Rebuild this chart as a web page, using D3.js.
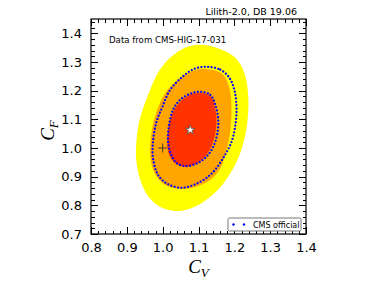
<!DOCTYPE html>
<html>
<head>
  <script src="https://d3js.org/d3.v7.min.js"></script>
  <style>
    body { margin: 0; background: #fff; }
    .axis text { font-family: "DejaVu Sans", sans-serif; font-size: 13px; fill: #000; }
    .axis line { stroke: #000; stroke-width: 1; shape-rendering: crispEdges; }
    .axis path { display: none; }
    .note { font-family: "DejaVu Sans", sans-serif; fill: #000; }
    .mathlabel { font-family: "Liberation Serif", "DejaVu Serif", serif; font-style: italic; fill: #000; }
  </style>
</head>
<body>
<div id="chart"></div>
<script>
  var w = 381;
  var h = 286;
  var plotLeft = 91, plotRight = 306, plotTop = 19, plotBottom = 234;

  // axis ticks
  var xTicks = [0.8, 0.9, 1.0, 1.1, 1.2, 1.3, 1.4];
  var yTicks = [0.7, 0.8, 0.9, 1.0, 1.1, 1.2, 1.3, 1.4];

  // Lilith confidence regions (C_V, C_F)
  var yellowContour = [[1.100,1.360],[1.150,1.350],[1.200,1.318],[1.228,1.262],[1.239,1.175],[1.234,1.070],
    [1.211,0.965],[1.166,0.871],[1.120,0.818],[1.075,0.788],[1.035,0.780],[0.995,0.793],[0.962,0.828],
    [0.940,0.880],[0.927,0.950],[0.926,1.010],[0.936,1.100],[0.964,1.200],[0.986,1.260],[1.013,1.305],
    [1.055,1.345]];
  var orangeContour = [[1.119,1.276],[1.166,1.259],[1.186,1.210],[1.192,1.143],[1.189,1.063],[1.180,1.000],
    [1.161,0.930],[1.133,0.889],[1.091,0.864],[1.049,0.857],[1.007,0.871],[0.982,0.903],[0.968,0.948],
    [0.965,1.000],[0.971,1.070],[0.985,1.133],[1.007,1.192],[1.049,1.245],[1.083,1.269]];
  var redContour = [[1.110,1.192],[1.136,1.178],[1.147,1.133],[1.150,1.081],[1.141,1.021],[1.122,0.976],
    [1.097,0.948],[1.066,0.934],[1.038,0.944],[1.018,0.976],[1.013,1.021],[1.018,1.081],[1.029,1.126],
    [1.055,1.168],[1.083,1.189]];

  // CMS official contours
  var cmsOuter = [[1.124,1.283],[1.161,1.273],[1.186,1.245],[1.200,1.203],[1.206,1.143],[1.203,1.081],
    [1.192,1.021],[1.169,0.965],[1.136,0.910],[1.094,0.875],[1.052,0.861],[1.013,0.875],[0.987,0.906],
    [0.973,0.965],[0.973,1.021],[0.982,1.088],[0.999,1.143],[1.021,1.203],[1.055,1.248],[1.088,1.276]];
  var cmsInner = [[1.105,1.196],[1.133,1.185],[1.147,1.150],[1.155,1.098],[1.152,1.046],[1.141,1.004],
    [1.124,0.972],[1.099,0.948],[1.063,0.937],[1.038,0.948],[1.024,0.976],[1.015,1.021],[1.018,1.081],
    [1.029,1.133],[1.049,1.168],[1.077,1.189]];

  var bestFit = [1.077, 1.063];
  var smPoint = [1.0, 1.0];

  var svg = d3.select("#chart").append("svg").attr("width", w).attr("height", h);

  var xScale = d3.scaleLinear().domain([0.8, 1.4]).range([plotLeft, plotRight]);
  var yScale = d3.scaleLinear().domain([0.7, 1.45]).range([plotBottom, plotTop]);

  svg.append("clipPath").attr("id", "plotclip")
    .append("rect").attr("x", plotLeft).attr("y", plotTop)
    .attr("width", plotRight - plotLeft).attr("height", plotBottom - plotTop);

  var plot = svg.append("g").attr("clip-path", "url(#plotclip)");

  var contourLine = d3.line()
    .x(d => xScale(d[0]))
    .y(d => yScale(d[1]))
    .curve(d3.curveCatmullRomClosed.alpha(0.5));

  plot.append("path").attr("d", contourLine(yellowContour)).attr("fill", "#ffff00");
  plot.append("path").attr("d", contourLine(orangeContour)).attr("fill", "#ffa500");
  plot.append("path").attr("d", contourLine(redContour)).attr("fill", "#ff3300");

  [cmsOuter, cmsInner].forEach(function(c) {
    plot.append("path").attr("d", contourLine(c))
      .attr("fill", "none")
      .attr("stroke", "#0000ff")
      .attr("stroke-width", 2.3)
      .attr("stroke-linecap", "round")
      .attr("stroke-dasharray", "0 3.4");
  });

  // SM point
  var cx = xScale(smPoint[0]), cy = yScale(smPoint[1]);
  plot.append("line").attr("x1", cx - 4.5).attr("x2", cx + 4.5).attr("y1", cy).attr("y2", cy)
    .attr("stroke", "#333").attr("stroke-width", 0.9);
  plot.append("line").attr("x1", cx).attr("x2", cx).attr("y1", cy - 4.5).attr("y2", cy + 4.5)
    .attr("stroke", "#333").attr("stroke-width", 0.9);

  // best fit
  plot.append("path")
    .attr("transform", `translate(${xScale(bestFit[0])},${yScale(bestFit[1])})`)
    .attr("d", d3.symbol().type(d3.symbolStar).size(28)())
    .attr("fill", "#fff")
    .attr("stroke", "#555")
    .attr("stroke-width", 0.8);

  // axes: major and minor ticks on all four sides, pointing in
  var xMinor = d3.range(0.8, 1.4001, 0.02);
  var yMinor = d3.range(0.7, 1.4501, 0.02);

  svg.append("g").attr("class", "axis").attr("transform", `translate(0,${plotBottom})`)
    .call(d3.axisBottom(xScale).tickValues(xTicks).tickSizeInner(-7).tickSizeOuter(0).tickPadding(9).tickFormat(d3.format(".1f")));
  svg.append("g").attr("class", "axis").attr("transform", `translate(0,${plotBottom})`)
    .call(d3.axisBottom(xScale).tickValues(xMinor).tickSizeInner(-3.5).tickSizeOuter(0).tickFormat(""));
  svg.append("g").attr("class", "axis").attr("transform", `translate(0,${plotTop})`)
    .call(d3.axisTop(xScale).tickValues(xTicks).tickSizeInner(-7).tickSizeOuter(0).tickFormat(""));
  svg.append("g").attr("class", "axis").attr("transform", `translate(0,${plotTop})`)
    .call(d3.axisTop(xScale).tickValues(xMinor).tickSizeInner(-3.5).tickSizeOuter(0).tickFormat(""));

  svg.append("g").attr("class", "axis").attr("transform", `translate(${plotLeft},0)`)
    .call(d3.axisLeft(yScale).tickValues(yTicks).tickSizeInner(-7).tickSizeOuter(0).tickPadding(9).tickFormat(d3.format(".1f")));
  svg.append("g").attr("class", "axis").attr("transform", `translate(${plotLeft},0)`)
    .call(d3.axisLeft(yScale).tickValues(yMinor).tickSizeInner(-3.5).tickSizeOuter(0).tickFormat(""));
  svg.append("g").attr("class", "axis").attr("transform", `translate(${plotRight},0)`)
    .call(d3.axisRight(yScale).tickValues(yTicks).tickSizeInner(-7).tickSizeOuter(0).tickFormat(""));
  svg.append("g").attr("class", "axis").attr("transform", `translate(${plotRight},0)`)
    .call(d3.axisRight(yScale).tickValues(yMinor).tickSizeInner(-3.5).tickSizeOuter(0).tickFormat(""));

  svg.append("rect")
    .attr("x", plotLeft).attr("y", plotTop)
    .attr("width", plotRight - plotLeft).attr("height", plotBottom - plotTop)
    .attr("fill", "none").attr("stroke", "#000").attr("stroke-width", 1.2);

  // texts
  svg.append("text").attr("class", "note")
    .attr("x", 297).attr("y", 15).attr("text-anchor", "end").attr("font-size", 9.5)
    .text("Lilith-2.0, DB 19.06");
  svg.append("text").attr("class", "note")
    .attr("x", 109).attr("y", 43).attr("font-size", 8.6)
    .text("Data from CMS-HIG-17-031");

  var xl = svg.append("text").attr("class", "mathlabel")
    .attr("x", xScale(1.1)).attr("y", 273).attr("text-anchor", "middle").attr("font-size", 19);
  xl.append("tspan").text("C");
  xl.append("tspan").attr("font-size", 13).attr("dy", 4).text("V");

  var yl = svg.append("text").attr("class", "mathlabel")
    .attr("transform", `translate(54,${(plotTop + plotBottom) / 2 + 4}) rotate(-90)`)
    .attr("text-anchor", "middle").attr("font-size", 19);
  yl.append("tspan").text("C");
  yl.append("tspan").attr("font-size", 13).attr("dy", 4).text("F");

  // legend
  var lg = svg.append("g").attr("transform", "translate(228,218)");
  lg.append("rect").attr("width", 73).attr("height", 13).attr("rx", 1.5)
    .attr("fill", "#fff").attr("stroke", "#777").attr("stroke-width", 1);
  lg.selectAll("circle").data([5.5, 16]).enter().append("circle")
    .attr("cx", d => d).attr("cy", 6.5).attr("r", 1.2).attr("fill", "#0000ff");
  lg.append("text").attr("class", "note").attr("x", 25).attr("y", 9.5).attr("font-size", 8)
    .text("CMS official");
</script>
</body>
</html>
